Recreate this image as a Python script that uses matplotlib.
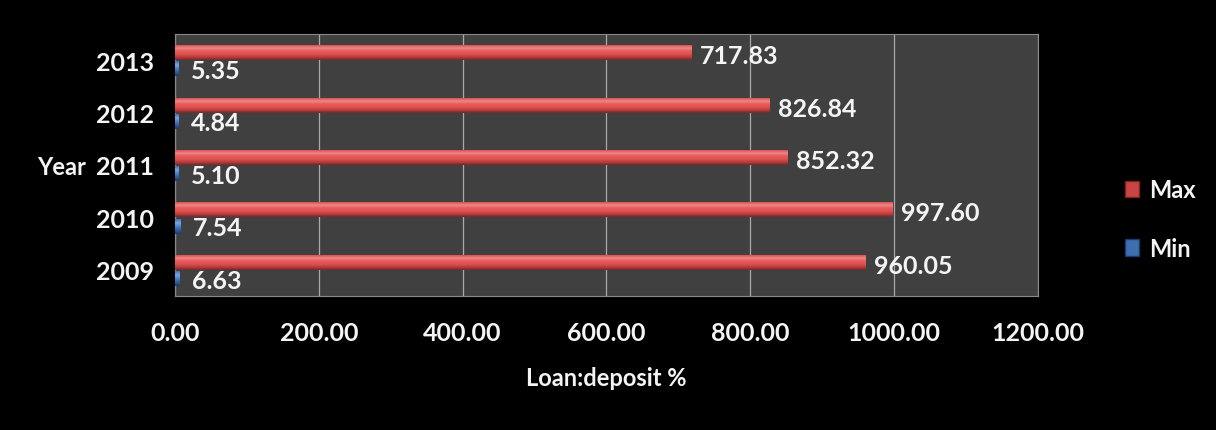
import matplotlib.pyplot as plt
import matplotlib.patches as mpatches
import numpy as np
from matplotlib.colors import LinearSegmentedColormap

years = ["2009", "2010", "2011", "2012", "2013"]
max_vals = [960.05, 997.60, 852.32, 826.84, 717.83]
min_vals = [6.63, 7.54, 5.10, 4.84, 5.35]
x_ticks = [0, 200, 400, 600, 800, 1000, 1200]

plt.rcParams['font.family'] = ['Lato', 'DejaVu Sans']
plt.rcParams['font.weight'] = 'bold'

# shading for the "3d" bars: dark bottom, bright middle, pale top edge
red_cm = LinearSegmentedColormap.from_list(
    "red3d", ["#7a2626", "#b83e3e", "#e05252", "#e65a5a", "#f08888", "#dc5050"])
blue_cm = LinearSegmentedColormap.from_list(
    "blue3d", ["#1c3a66", "#2f5d9c", "#4a7fc4", "#7aa6de", "#3d6fb0"])


def shaded_bar(ax, x, y, h, cmap):
    grad = np.linspace(0, 1, 64).reshape(-1, 1)
    ax.imshow(grad, cmap=cmap, origin='lower', aspect='auto',
              extent=(0, x, y - h / 2, y + h / 2), zorder=3,
              interpolation='bilinear')


def main():
    fig = plt.figure(figsize=(12.16, 4.31), dpi=100, facecolor='black')
    ax = fig.add_axes([0.1439, 0.3109, 0.7097, 0.6079])
    ax.set_facecolor('#404040')

    pos = np.arange(len(years))
    h = 0.28
    up, down = 0.14, 0.17
    ax.barh(pos + up, max_vals, height=h, color='#c94444', zorder=2)
    ax.barh(pos - down, min_vals, height=h, color='#2f5d9c', zorder=2)
    for i in range(len(years)):
        shaded_bar(ax, max_vals[i], pos[i] + up, h, red_cm)
        shaded_bar(ax, min_vals[i], pos[i] - down, h, blue_cm)
        ax.annotate(f"{max_vals[i]:.2f}", (max_vals[i], pos[i] + up),
                    xytext=(6, -2), textcoords='offset points',
                    ha='left', va='center', color='#f4f4f4', fontsize=18,
                    fontweight='bold', zorder=5)
        ax.annotate(f"{min_vals[i]:.2f}", (min_vals[i], pos[i] - down),
                    xytext=(9, -1), textcoords='offset points',
                    ha='left', va='center', color='#f4f4f4', fontsize=18,
                    fontweight='bold', zorder=5)

    ax.set_xlim(0, 1200)
    ax.set_ylim(-0.5, len(years) - 0.5)
    ax.set_xticks(x_ticks)
    ax.set_xticklabels([f"{v:.2f}" for v in x_ticks])
    ax.set_yticks(pos)
    ax.set_yticklabels(years)
    ax.tick_params(colors='#f4f4f4', labelsize=18, length=0)
    ax.tick_params(axis='x', pad=18)
    ax.tick_params(axis='y', pad=15)
    for lab in ax.get_xticklabels() + ax.get_yticklabels():
        lab.set_fontweight('bold')

    ax.grid(axis='x', color='#a8a8a8', linewidth=0.9, zorder=1)
    ax.set_axisbelow(True)
    for s in ax.spines.values():
        s.set_color('#8a8a8a')
        s.set_linewidth(0.8)

    ax.set_xlabel("Loan:deposit %", color='#f4f4f4', fontsize=17,
                  fontweight='bold', labelpad=16)
    fig.text(62 / 1216, 1 - 168 / 431, "Year", color='#f4f4f4', fontsize=17,
             fontweight='bold', ha='center', va='center')

    handles = [mpatches.Patch(facecolor='#c94444', edgecolor='#7a2424'),
               mpatches.Patch(facecolor='#3d6fb0', edgecolor='#1c3a66')]
    leg = fig.legend(handles, ["Max", "Min"], loc='center left',
                     bbox_to_anchor=(1104 / 1216, 1 - 220 / 431),
                     frameon=False, fontsize=17, labelspacing=1.5,
                     handlelength=0.6, handleheight=0.7, handletextpad=0.4,
                     labelcolor='#f4f4f4')
    for t in leg.get_texts():
        t.set_fontweight('bold')

    fig.savefig("out.png", dpi=100, facecolor='black')


if __name__ == "__main__":
    main()
